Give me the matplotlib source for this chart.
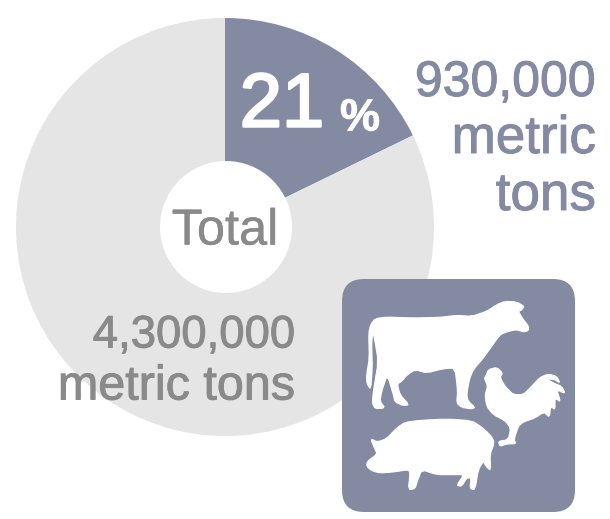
import matplotlib
matplotlib.use("Agg")
import matplotlib.pyplot as plt
import matplotlib.patheffects as pe
from matplotlib.patches import Polygon, FancyBboxPatch, Circle

# Data
categories = ["Livestock", "Other"]
tons = [930000, 4300000]
share_label = "21"
pct_label = "%"
part_label = ["930,000", "metric", "tons"]
total_label = ["4,300,000", "metric tons"]
center_label = "Total"

GREY = "#e5e5e5"
SLATE = "#858aa3"
TXT = "#8a8a8a"
W, H = 610, 519
plt.rcParams["font.family"] = ["Liberation Sans", "DejaVu Sans"]

fig = plt.figure(figsize=(W / 100, H / 100), dpi=100, facecolor="white")

# Pie in its own axes, placed in pixel terms
cx, cy, R = 225, 227, 209
pie_ax = fig.add_axes([(cx - R) / W, 1 - (cy + R) / H, 2 * R / W, 2 * R / H])
pie_ax.pie(tons, colors=[SLATE, GREY], startangle=90, counterclock=False, radius=1,
           wedgeprops=dict(linewidth=0))
pie_ax.set_xlim(-1, 1)
pie_ax.set_ylim(-1, 1)
pie_ax.add_patch(Circle((1 / R, 0), 66 / R, fc="white", ec="none"))
pie_ax.axis("off")

# Overlay for text and icon
ov = fig.add_axes([0, 0, 1, 1])
ov.set_xlim(0, W)
ov.set_ylim(H, 0)
ov.axis("off")
ov.patch.set_alpha(0)


def px(p):
    return p * 0.72


def label(x, y, s, size, color, ha="center", stroke=0.7, **kw):
    t = ov.text(x, y, s, fontsize=px(size), color=color, ha=ha, va="center", **kw)
    t.set_path_effects([pe.withStroke(linewidth=stroke, foreground=color)])
    return t


label(282, 107, share_label, 76, "white", stroke=1.8)
label(360, 119, pct_label, 45, "white", stroke=0.6, fontweight="bold")
label(225, 231, center_label, 50.5, TXT, stroke=0.3)
for t, y, s in zip(part_label, [83, 139, 196], [50, 53, 53]):
    label(596, y, t, s, SLATE, ha="right")
label(295, 336, total_label[0], 45.5, TXT, ha="right")
label(295, 387, total_label[1], 48.5, TXT, ha="right")

# Icon background
ov.add_patch(FancyBboxPatch((342 + 22, 279 + 22), 233 - 44, 233 - 44,
                            boxstyle="round,pad=22,rounding_size=22", fc=SLATE, ec="none"))


def smooth(points):
    out = []
    n = len(points)
    for i in range(n):
        x0, y0 = points[i]
        x1, y1 = points[(i + 1) % n]
        out.append((0.8 * x0 + 0.2 * x1, 0.8 * y0 + 0.2 * y1))
        out.append((0.2 * x0 + 0.8 * x1, 0.2 * y0 + 0.8 * y1))
    return out


def shape(points):
    pts = [(340 + x / 3, 278 + y / 3) for x, y in smooth(points)]
    ov.add_patch(Polygon(pts, closed=True, fc="white", ec="white", lw=0.8, joinstyle="round"))


cow = [(470, 80), (495, 70), (530, 72), (553, 85), (545, 96), (535, 100), (548, 122), (566, 145), (565, 158),
       (550, 162), (530, 155), (505, 160), (480, 170), (455, 205), (430, 240), (400, 275), (388, 305),
       (380, 350), (385, 370), (405, 388), (395, 393), (365, 388), (350, 375), (353, 340), (345, 270),
       (310, 272), (260, 285), (225, 275), (200, 292), (185, 310), (172, 318), (180, 350), (207, 380), (190, 383),
       (165, 372), (160, 350), (142, 290), (125, 340), (120, 370), (135, 390), (105, 392), (97, 375), (100, 340),
       (115, 250), (103, 180), (98, 160), (95, 200), (97, 270), (92, 335), (80, 315), (80, 290), (88, 240), (86, 165),
       (92, 140), (105, 122), (140, 117), (220, 120), (300, 118), (350, 112), (395, 115), (440, 100)]
shape(cow)

rooster = [(437, 296), (445, 275), (470, 268), (488, 285), (480, 298), (495, 325), (520, 350), (550, 350),
           (575, 325), (600, 298), (625, 288), (650, 295), (660, 315), (645, 305), (620, 302), (640, 315), (665, 325),
           (676, 347), (650, 335), (662, 372), (645, 360), (645, 395), (632, 385), (628, 418), (612, 402),
           (585, 420), (550, 432), (535, 445), (522, 485), (528, 497), (500, 498), (480, 505), (475, 490),
           (505, 485), (512, 450), (495, 428), (460, 410), (440, 385), (435, 350), (443, 325), (433, 300)]
shape(rooster)

pig = [(92, 482), (112, 492), (140, 482), (170, 450), (195, 433), (240, 427), (320, 423), (395, 428), (425, 447),
       (455, 475), (463, 495), (450, 530), (452, 578), (438, 565), (430, 550), (415, 575), (405, 635), (390, 632),
       (393, 600), (380, 600), (365, 625), (350, 622), (372, 590), (340, 590), (290, 590), (245, 575),
       (232, 610), (225, 632), (205, 635), (210, 585), (205, 575), (160, 582), (120, 585), (95, 578), (80, 565), (82, 550),
       (112, 528), (103, 510)]
shape(pig)

fig.savefig("out.png", dpi=100, facecolor="white")
